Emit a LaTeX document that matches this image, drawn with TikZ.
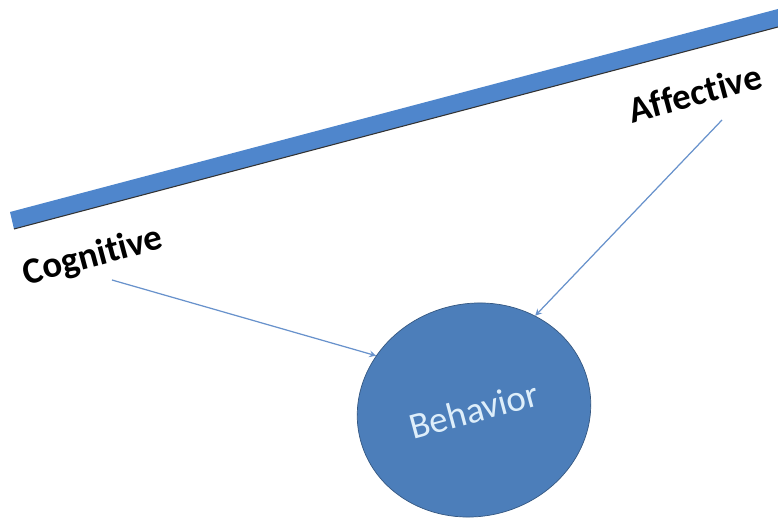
\documentclass[tikz,border=0pt]{standalone}
\usepackage{fontspec}
\setmainfont{Carlito}[Ligatures={NoCommon}]
\usepackage{tikz}
\usetikzlibrary{shapes.geometric, arrows}
\usetikzlibrary{positioning}
\definecolor{barblue}{RGB}{79,134,204}
\definecolor{ballblue}{RGB}{76,126,186}
\definecolor{lineblue}{RGB}{104,146,204}
\definecolor{textblue}{RGB}{222,238,250}
\tikzstyle{tagtext} = [rotate=15, font=\fontsize{21}{25}\selectfont\bfseries, text=black, inner sep=0pt]
\tikzstyle{ball} = [ellipse, rotate=15, minimum width=4.7cm, minimum height=4.25cm, draw=ballblue!70!black, fill=ballblue, text=textblue, font=\fontsize{21}{25}\selectfont]
\tikzstyle{arrow} = [draw=lineblue, line width=0.7pt, ->, >=stealth]

\begin{document}
\begin{tikzpicture}[x=0.02cm, y=-0.02cm]
\useasboundingbox (0,0) rectangle (778,519);
\fill[white] (0,0) rectangle (778,519);

% the bar
\fill[barblue] (10,212) -- (778,9) -- (778,27) -- (14,229) -- cycle;
\draw[black!80, line width=0.6pt] (14,229) -- (778,27);

\node (cognitive) [tagtext] at (93,257) {Cognitive};
\node (affective) [tagtext] at (695,93) {Affective};
\node (behavior) [ball] at (474,410) {Behavior};

\coordinate (cogtail) at (112,280);
\coordinate (afftail) at (722,120);

\draw [arrow] (cogtail) -- (behavior.136);
\draw [arrow] (afftail) -- (behavior.42);
\end{tikzpicture}
\end{document}
